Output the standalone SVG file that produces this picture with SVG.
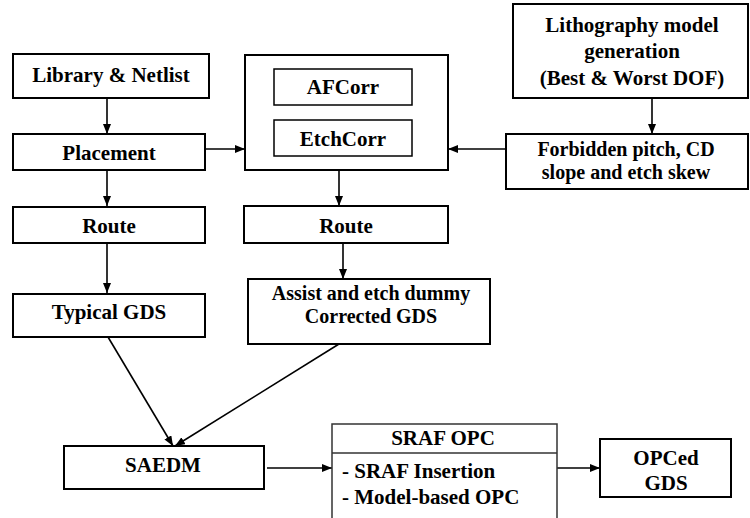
<svg xmlns="http://www.w3.org/2000/svg" width="750" height="518" viewBox="0 0 750 518">
<defs>
<marker id="ah" viewBox="0 0 10 8" refX="10" refY="4" markerWidth="10" markerHeight="8" markerUnits="userSpaceOnUse" orient="auto">
<path d="M0,0 L10,4 L0,8 Z" fill="#000"/>
</marker>
</defs>
<style>
.box{fill:#fff;stroke:#000;stroke-width:2}
.ibox{fill:#fff;stroke:#000;stroke-width:1.5}
text{font-family:'Liberation Serif','Times New Roman',serif;font-weight:bold;font-size:21px;fill:#000;text-anchor:middle}
.tl{text-anchor:start}
.sm{font-size:20px}
.c{fill:none;stroke:#000;stroke-width:1.6}
.ca{fill:none;stroke:#000;stroke-width:1.6;marker-end:url(#ah)}
</style>
<rect width="750" height="518" fill="#fff"/>
<g id="connectors">
<line class="ca" x1="107" y1="98" x2="107" y2="134"/>
<line class="ca" x1="107" y1="170" x2="107" y2="206"/>
<line class="ca" x1="107" y1="243" x2="107" y2="293"/>
<line class="ca" x1="204" y1="149" x2="245" y2="149"/>
<line class="ca" x1="506" y1="149" x2="448" y2="149"/>
<line class="ca" x1="652" y1="98" x2="652" y2="134"/>
<line class="c" x1="339" y1="105" x2="339" y2="120"/>
<line class="ca" x1="339" y1="170" x2="339" y2="206"/>
<line class="ca" x1="343" y1="243" x2="343" y2="279"/>
<line class="ca" x1="108" y1="337" x2="173" y2="446"/>
<line class="ca" x1="339" y1="344" x2="175" y2="446"/>
<line class="ca" x1="267" y1="468" x2="332" y2="468"/>
<line class="ca" x1="557" y1="468" x2="600" y2="468"/>
</g>
<g id="library">
<rect class="box" x="13" y="54" width="196" height="44"/>
<text x="111" y="82">Library &amp; Netlist</text>
</g>
<g id="placement">
<rect class="box" x="13" y="134" width="192" height="36"/>
<text x="109" y="160">Placement</text>
</g>
<g id="route1">
<rect class="box" x="13" y="207" width="192" height="36"/>
<text x="109" y="233">Route</text>
</g>
<g id="typical">
<rect class="box" x="13" y="294" width="192" height="43"/>
<text x="109" y="319">Typical GDS</text>
</g>
<g id="corr">
<rect class="box" x="245" y="55" width="203" height="115"/>
</g>
<g id="afcorr">
<rect class="ibox" x="274" y="69" width="138" height="36"/>
<text x="343" y="94">AFCorr</text>
</g>
<g id="etchcorr">
<rect class="ibox" x="274" y="120" width="138" height="36"/>
<text x="343" y="146">EtchCorr</text>
</g>
<g id="route2">
<rect class="box" x="244" y="206" width="204" height="37"/>
<text x="346" y="233">Route</text>
</g>
<g id="assist">
<rect class="box" x="248" y="279" width="242" height="65"/>
<text class="sm" x="371" y="300">Assist and etch dummy</text>
<text class="sm" x="371" y="323">Corrected GDS</text>
</g>
<g id="litho">
<rect class="box" x="513" y="4" width="235" height="94"/>
<text x="632" y="32">Lithography model</text>
<text x="632" y="58">generation</text>
<text x="632" y="85">(Best &amp; Worst DOF)</text>
</g>
<g id="forbidden">
<rect class="box" x="506" y="134" width="242" height="55"/>
<text class="sm" x="626" y="156">Forbidden pitch, CD</text>
<text class="sm" x="626" y="179">slope and etch skew</text>
</g>
<g id="saedm">
<rect class="box" x="64" y="446" width="200" height="43"/>
<text x="163" y="472">SAEDM</text>
</g>
<g id="sraf">
<path d="M332,518 V424 H557 V518" fill="#fff" stroke="#333" stroke-width="1.5"/>
<line x1="332" y1="453" x2="557" y2="453" stroke="#333" stroke-width="1.5"/>
<text x="443" y="445">SRAF OPC</text>
<text class="tl" x="342" y="478">- SRAF Insertion</text>
<text class="tl" x="342" y="504">- Model-based OPC</text>
</g>
<g id="opced">
<rect class="box" x="600" y="439" width="131" height="58"/>
<text x="666" y="465">OPCed</text>
<text x="666" y="490">GDS</text>
</g>
</svg>
